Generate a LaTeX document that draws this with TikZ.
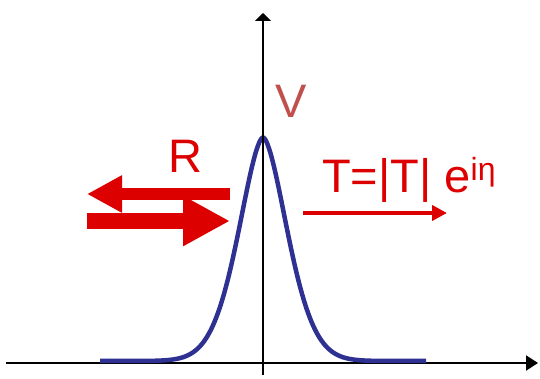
\documentclass[tikz,border=0pt]{standalone}
\usepackage{fontspec}
\setmainfont{Liberation Sans}
\usetikzlibrary{arrows.meta}
\definecolor{waveblue}{HTML}{2E3192}
\definecolor{beamred}{HTML}{DD0000}
\definecolor{barrierred}{HTML}{C0504D}
\tikzset{
  axisline/.style={line width=2pt,black},
  bigtext/.style={font=\fontsize{47}{47}\selectfont,inner sep=0pt,anchor=base},
  reflected/.style={beamred,line width=12pt,-{Triangle[length=35pt,width=35pt]}},
  incident/.style={beamred,line width=16pt,-{Triangle[length=47pt,width=47pt]}},
  transmitted/.style={beamred,line width=4.5pt,-{Triangle[length=15pt,width=15pt]}},
  barrier/.style={waveblue,line width=4.5pt}
}
\begin{document}
\begin{tikzpicture}[x=1pt,y=-1pt]
  \useasboundingbox (0,0) rectangle (540,379);

  % Axes
  \coordinate (xstart) at (6,363);
  \coordinate (xend) at (538,363);
  \coordinate (ystart) at (263,375);
  \coordinate (yend) at (263,13);
  \draw[axisline,-{Triangle[length=12pt,width=15pt]}] (xstart) -- (xend);

  % Potential barrier
  \draw[barrier] plot[domain=100:426,samples=327]
    (\x,{361-223.5*exp(-((abs(\x-263)+0.01)/35)^1.7)});
  \draw[axisline,-{Triangle[length=8pt,width=16pt]}] (ystart) -- (yend);
  \node[bigtext,text=barrierred] (vlabel) at (291,118) {V};

  % Reflected and incident waves
  \node[bigtext,text=beamred] (rlabel) at (185,173) {R};
  \coordinate (refla) at (230,194);
  \coordinate (reflb) at (87,194);
  \draw[reflected] (refla) -- (reflb);
  \coordinate (inca) at (87,221);
  \coordinate (incb) at (230,221);
  \draw[incident] (inca) -- (incb);

  % Transmitted wave
  \node[bigtext,anchor=base west,text=beamred] (tlabel) at (322,193)
    {T=|T| e\raisebox{12pt}{\fontsize{32}{32}\selectfont iη}};
  \coordinate (transa) at (303,213);
  \coordinate (transb) at (447,213);
  \draw[transmitted] (transa) -- (transb);
\end{tikzpicture}
\end{document}
